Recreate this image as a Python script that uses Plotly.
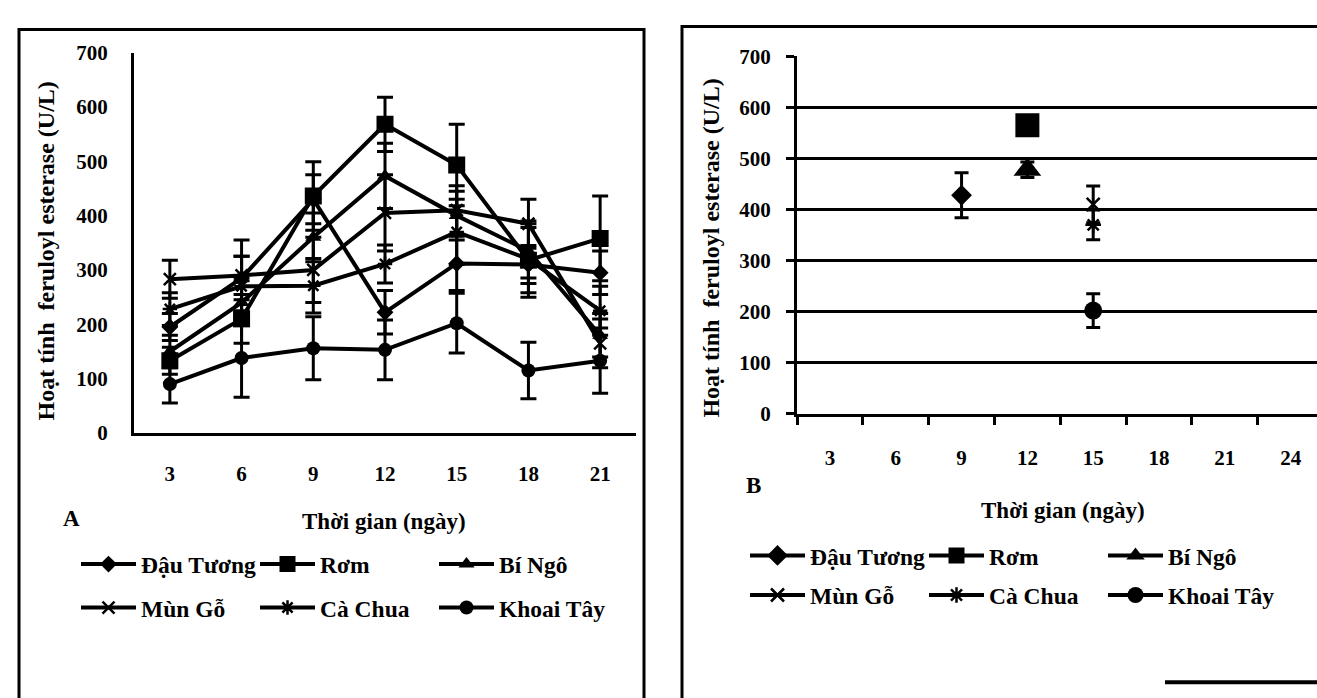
import plotly.graph_objects as go

W, H = 1317, 698

# ---------------- data ----------------
days_A = ["3", "6", "9", "12", "15", "18", "21"]
days_B = ["3", "6", "9", "12", "15", "18", "21", "24"]
names = ["Đậu Tương", "Rơm", "Bí Ngô", "Mùn Gỗ", "Cà Chua", "Khoai Tây"]

dau_tuong = [195, 285, 430, 222, 312, 310, 295]
dau_tuong_err = [25, 40, 45, 40, 50, 35, 40]
rom = [133, 210, 436, 568, 493, 318, 358]
rom_err = [25, 45, 63, 50, 75, 60, 78]
bi_ngo = [150, 240, 360, 473, 400, 335, 180]
bi_ngo_err = [30, 40, 45, 60, 45, 50, 40]
mun_go = [283, 290, 300, 405, 410, 385, 165]
mun_go_err = [35, 65, 60, 70, 45, 45, 45]
ca_chua = [228, 270, 271, 311, 370, 320, 225]
ca_chua_err = [30, 55, 50, 35, 60, 70, 45]
khoai_tay = [90, 138, 156, 153, 202, 115, 133]
khoai_tay_err = [35, 72, 58, 55, 55, 52, 60]

# panel B: peak activity of each substrate
peak_day = ["9", "12", "12", "15", "15", "15"]
peak_val = [428, 565, 478, 410, 370, 202]
peak_err = [44, 12, 15, 36, 29, 33]

series_A = [dau_tuong, rom, bi_ngo, mun_go, ca_chua, khoai_tay]
errors_A = [dau_tuong_err, rom_err, bi_ngo_err, mun_go_err, ca_chua_err, khoai_tay_err]

# ---------------- styles ----------------
FONT = "Liberation Serif"
symbols = ["diamond", "square", "triangle-up", "x-thin", "asterisk", "circle"]
sizes_A = [13, 17, 14, 12, 12, 14]
sizes_B = [16, 24, 24, 13, 13, 18]
open_sym = {"x-thin", "asterisk"}


def px(x):
    return x / W


def py(y):
    return 1 - y / H


fig = go.Figure()

for i, nm in enumerate(names):
    sym = symbols[i]
    mk = dict(symbol=sym, size=sizes_A[i], color="black",
              line=dict(width=2.5 if sym in open_sym else 0, color="black"))
    fig.add_trace(go.Scatter(
        x=days_A, y=series_A[i], name=nm, mode="lines+markers",
        line=dict(color="black", width=4), marker=mk,
        error_y=dict(type="data", array=errors_A[i], color="black", thickness=3, width=8),
        xaxis="x", yaxis="y", legend="legend" if i < 3 else "legend2",
        showlegend=True,
    ))

for i, nm in enumerate(names):
    sym = symbols[i]
    mk = dict(symbol=sym, size=sizes_B[i], color="black",
              line=dict(width=2.5 if sym in open_sym else 0, color="black"))
    fig.add_trace(go.Scatter(
        x=[peak_day[i]], y=[peak_val[i]], name=nm, mode="lines+markers",
        line=dict(color="black", width=4), marker=mk,
        error_y=dict(type="data", array=[peak_err[i]], color="black", thickness=3, width=7),
        xaxis="x2", yaxis="y2", legend="legend3" if i < 3 else "legend4",
        showlegend=True,
    ))

tickfont = dict(family=FONT, size=21, color="black", weight="bold")

fig.update_layout(
    width=W, height=H, margin=dict(l=0, r=0, t=0, b=0),
    paper_bgcolor="white", plot_bgcolor="white",
    font=dict(family=FONT, color="black"),
    xaxis=dict(domain=[px(134), px(636)], type="category", categoryorder="array",
               categoryarray=days_A, range=[-0.5, 6.5], showline=True, linecolor="black",
               linewidth=3, ticks="", showgrid=False, zeroline=False, tickfont=tickfont,
               ticklabelstandoff=20, anchor="y", fixedrange=True),
    yaxis=dict(domain=[py(436), py(42)], range=[0, 700], tickvals=[0, 100, 200, 300, 400, 500, 600, 700],
               showline=True, linecolor="black", linewidth=3, ticks="", showgrid=False,
               zeroline=False, tickfont=tickfont, ticklabelstandoff=19, anchor="x"),
    xaxis2=dict(domain=[px(797), 1.0], type="category", categoryorder="array",
                categoryarray=days_B, range=[-0.5, 7.4], showline=True, linecolor="black",
                linewidth=3, ticks="outside", ticklen=8, tickwidth=3, tickcolor="black",
                tickson="boundaries", showgrid=False, zeroline=False, tickfont=tickfont,
                ticklabelstandoff=23, anchor="y2"),
    yaxis2=dict(domain=[py(416), py(46)], range=[0, 700], tickvals=[0, 100, 200, 300, 400, 500, 600, 700],
                showline=True, linecolor="black", linewidth=3, ticks="outside", ticklen=8,
                tickwidth=3, tickcolor="black", showgrid=True, gridcolor="black", gridwidth=3,
                zeroline=False, tickfont=tickfont, ticklabelstandoff=11, anchor="x2"),
)

legfont = dict(family=FONT, size=23.5, color="black", weight="bold")
common_leg = dict(orientation="h", xanchor="left", yanchor="middle", entrywidth=109,
                  entrywidthmode="pixels", font=legfont, bgcolor="rgba(0,0,0,0)",
                  itemwidth=55, borderwidth=0)
fig.update_layout(
    legend=dict(x=px(76), y=py(572), **common_leg),
    legend2=dict(x=px(76), y=py(617), **common_leg),
    legend3=dict(x=px(745), y=py(563), **common_leg),
    legend4=dict(x=px(745), y=py(604), **common_leg),
)

labfont = dict(family=FONT, size=23, color="black", weight="bold")
yfont = dict(family=FONT, size=24, color="black", weight="bold")
ann = [
    dict(text="Hoạt tính  feruloyl esterase (U/L)", x=px(46), y=py(248), textangle=-90, font=yfont),
    dict(text="Hoạt tính  feruloyl esterase (U/L)", x=px(711), y=py(245), textangle=-90, font=yfont),
    dict(text="Thời gian (ngày)", x=px(384), y=py(528), font=labfont),
    dict(text="Thời gian (ngày)", x=px(1063), y=py(516), font=labfont),
    dict(text="A", x=px(71), y=py(525), font=labfont),
    dict(text="B", x=px(753), y=py(490), font=labfont),
]
for a in ann:
    fig.add_annotation(xref="paper", yref="paper", showarrow=False,
                       xanchor="center", yanchor="middle", **a)

# outer frames of the two panels
fig.add_shape(type="rect", xref="paper", yref="paper", x0=px(19), x1=px(644), y0=py(18), y1=-0.1,
              line=dict(color="black", width=3))
fig.add_shape(type="rect", xref="paper", yref="paper", x0=px(682), x1=1.1, y0=py(15), y1=-0.1,
              line=dict(color="black", width=3))
fig.add_shape(type="line", xref="paper", yref="paper", x0=px(1165), x1=1.0, y0=py(694), y1=py(694),
              line=dict(color="black", width=4))

fig.write_html("out.html")
